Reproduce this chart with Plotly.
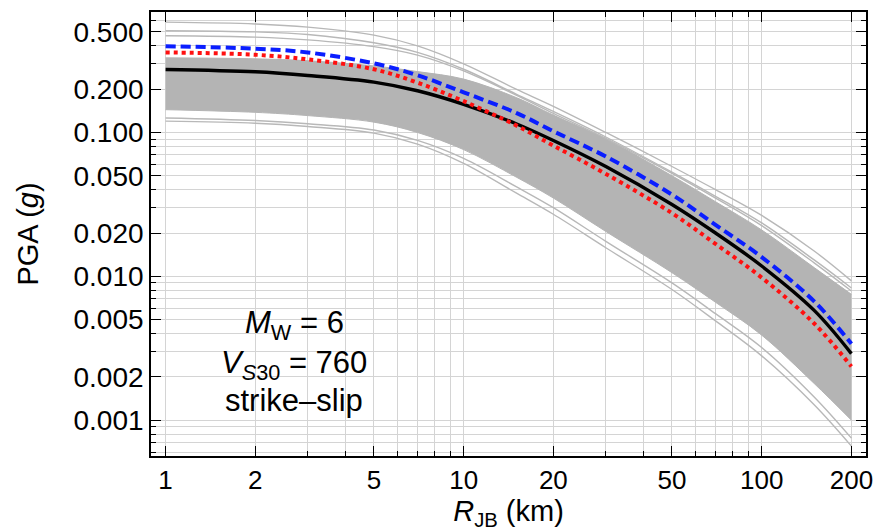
import plotly.graph_objects as go

# Distances (km) at which every curve is tabulated
r_jb = [1, 2, 3, 5, 7, 10, 15, 20, 30, 50, 70, 100, 150, 200]

# Median PGA (g) curves
pga_black = [0.274, 0.264, 0.249, 0.224, 0.195, 0.157, 0.115, 0.088, 0.058, 0.0316, 0.0200, 0.0118, 0.0058, 0.0029]
pga_blue = [0.398, 0.382, 0.360, 0.302, 0.250, 0.190, 0.137, 0.102, 0.068, 0.0370, 0.0228, 0.0136, 0.0067, 0.0034]
pga_red = [0.360, 0.347, 0.322, 0.275, 0.222, 0.165, 0.112, 0.081, 0.0515, 0.0275, 0.0168, 0.0098, 0.0047, 0.00236]

# Envelope of the dense cloud of sampled curves
cloud_top = [0.330, 0.325, 0.315, 0.290, 0.265, 0.235, 0.175, 0.132, 0.090, 0.050, 0.033, 0.021, 0.0115, 0.0075]
cloud_bottom = [0.144, 0.138, 0.131, 0.118, 0.100, 0.076, 0.049, 0.035, 0.0205, 0.0106, 0.0066, 0.0039, 0.0018, 0.0010]

# Individual sampled curves lying outside the dense cloud
outlier_curves = [
    [0.585, 0.568, 0.540, 0.475, 0.400, 0.300, 0.200, 0.152, 0.100, 0.058, 0.040, 0.0265, 0.0150, 0.0093],
    [0.510, 0.500, 0.480, 0.420, 0.360, 0.275, 0.185, 0.140, 0.093, 0.053, 0.036, 0.0235, 0.0130, 0.0083],
    [0.470, 0.460, 0.440, 0.395, 0.345, 0.268, 0.182, 0.136, 0.091, 0.052, 0.035, 0.0225, 0.0124, 0.0079],
    [0.126, 0.121, 0.115, 0.104, 0.088, 0.066, 0.042, 0.030, 0.0175, 0.0090, 0.0055, 0.0032, 0.00145, 0.00075],
    [0.120, 0.116, 0.110, 0.099, 0.083, 0.061, 0.038, 0.027, 0.0158, 0.0081, 0.0049, 0.0028, 0.00128, 0.00066],
]

# Axis ticks
x_major = [1, 2, 5, 10, 20, 50, 100, 200]
x_minor = [3, 4, 6, 7, 8, 9, 30, 40, 60, 70, 80, 90]
y_major = [0.001, 0.002, 0.005, 0.01, 0.02, 0.05, 0.1, 0.2, 0.5]
y_major_text = ["0.001", "0.002", "0.005", "0.010", "0.020", "0.050", "0.100", "0.200", "0.500"]
y_minor = [0.0006, 0.0007, 0.0008, 0.0009, 0.003, 0.004, 0.006, 0.007, 0.008, 0.009,
           0.03, 0.04, 0.06, 0.07, 0.08, 0.09, 0.3, 0.4, 0.6]

GRAY = "#b4b4b4"
GRID = "#d4d4d4"
FONT = "Liberation Sans, Arial, Helvetica, sans-serif"

fig = go.Figure()

fig.add_trace(go.Scatter(x=r_jb, y=cloud_bottom, mode="lines",
                         line=dict(color=GRAY, width=1, shape="spline"),
                         hoverinfo="skip", showlegend=False))
fig.add_trace(go.Scatter(x=r_jb, y=cloud_top, mode="lines", fill="tonexty",
                         fillcolor=GRAY, line=dict(color=GRAY, width=1, shape="spline"),
                         hoverinfo="skip", showlegend=False))
for curve in outlier_curves:
    fig.add_trace(go.Scatter(x=r_jb, y=curve, mode="lines",
                             line=dict(color="#b8b8b8", width=1.4, shape="spline"),
                             hoverinfo="skip", showlegend=False))

fig.add_trace(go.Scatter(x=r_jb, y=pga_black, mode="lines",
                         line=dict(color="black", width=3.4, shape="spline"), showlegend=False))
fig.add_trace(go.Scatter(x=r_jb, y=pga_blue, mode="lines",
                         line=dict(color="#0a1eff", width=4, dash="10px,5px", shape="spline"),
                         showlegend=False))
fig.add_trace(go.Scatter(x=r_jb, y=pga_red, mode="lines",
                         line=dict(color="#ff1010", width=4, dash="4px,4px", shape="spline"),
                         showlegend=False))

axis_common = dict(
    showline=True, linecolor="black", linewidth=1.6, mirror="ticks",
    ticks="inside", ticklen=10, tickwidth=1.3, tickcolor="black",
    showgrid=True, gridcolor=GRID, gridwidth=1.1, zeroline=False,
)

fig.update_xaxes(
    type="log", range=[-0.049, 2.350],
    tickmode="array", tickvals=x_major, ticktext=[str(v) for v in x_major],
    tickfont=dict(family=FONT, size=26, color="black"),
    minor=dict(tickmode="array", tickvals=x_minor, ticks="inside", ticklen=5,
               tickcolor="black", tickwidth=1, showgrid=True, gridcolor=GRID, gridwidth=1.1),
    title=dict(text="<i>R</i><sub>JB</sub> (km)", font=dict(family=FONT, size=29, color="black"),
               standoff=2),
    **axis_common,
)
fig.update_yaxes(
    type="log", range=[-3.249, -0.1626],
    tickmode="array", tickvals=y_major, ticktext=y_major_text,
    tickfont=dict(family=FONT, size=28, color="black"),
    minor=dict(tickmode="array", tickvals=y_minor, ticks="inside", ticklen=5,
               tickcolor="black", tickwidth=1, showgrid=True, gridcolor=GRID, gridwidth=1.1),
    title=dict(text="PGA (<i>g</i>)", font=dict(family=FONT, size=29, color="black"),
               standoff=26),
    **axis_common,
)

for text, yp in [("<i>M</i><sub>W</sub> = 6", 0.294),
                 ("<i>V</i><sub><i>S</i>30</sub> = 760", 0.206),
                 ("strike–slip", 0.124)]:
    fig.add_annotation(text=text, xref="paper", yref="paper", x=0.2, y=yp,
                       showarrow=False, xanchor="center", yanchor="middle",
                       font=dict(family=FONT, size=31, color="black"))

fig.update_layout(
    width=883, height=531,
    margin=dict(l=151, r=11, t=10, b=75),
    paper_bgcolor="white", plot_bgcolor="white",
)

fig.write_html("out.html")
